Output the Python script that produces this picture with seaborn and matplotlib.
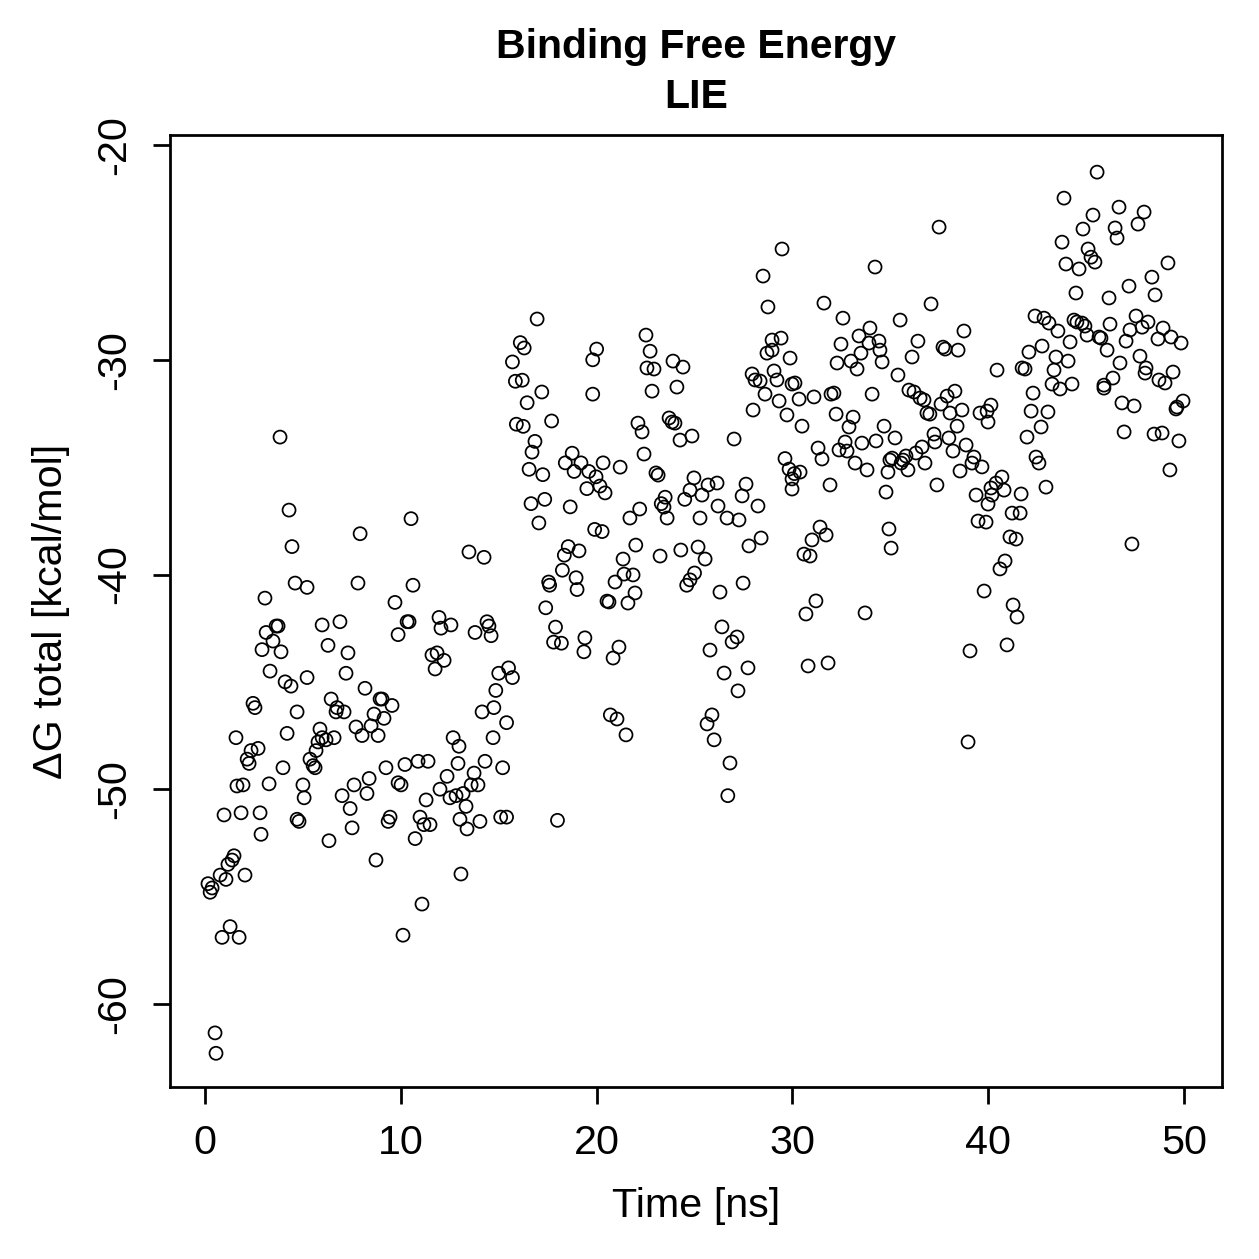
import numpy as np
import pandas as pd
import matplotlib
matplotlib.use("Agg")
import matplotlib.pyplot as plt
import seaborn as sns

# values, in segments along the time axis
t_00_15 = [0.15, 0.26, 0.36, 0.51, 0.56, 0.77, 0.87, 0.97, 1.07, 1.17,
           1.38, 1.48, 1.28, 1.58, 1.63, 1.74, 1.84, 1.94, 2.04, 2.15,
           2.25, 2.35, 2.45, 2.55, 2.71, 2.81, 2.86, 2.91, 3.06, 3.12,
           3.27, 3.32, 3.47, 3.63, 3.73, 3.83, 3.88, 3.98, 4.09, 4.19,
           4.29, 4.39, 4.44, 4.6, 4.7, 4.7, 4.8, 5.0, 5.06, 5.21,
           5.21, 5.36, 5.52, 5.62, 5.67, 5.77, 5.87, 5.98, 5.98, 6.18,
           6.28, 6.33, 6.44, 6.59, 6.69, 6.74, 6.89, 7.0, 7.1, 7.2,
           7.3, 7.41, 7.51, 7.61, 7.71, 7.81, 7.92, 8.02, 8.17, 8.27,
           8.38, 8.48, 8.63, 8.73, 8.84, 8.94, 9.04, 9.14, 9.24, 9.35,
           9.45, 9.55, 9.7, 9.86, 9.86, 10.01, 10.11, 10.21, 10.32, 10.42,
           10.52, 10.62, 10.73, 10.88, 10.98, 11.08, 11.18, 11.29, 11.39, 11.49,
           11.59, 11.75, 11.85, 11.95, 12.0, 12.05, 12.21, 12.36, 12.51, 12.56,
           12.67, 12.82, 12.92, 12.97, 13.02, 13.07, 13.18, 13.33, 13.38, 13.48,
           13.59, 13.74, 13.79, 13.94, 14.04, 14.15, 14.25, 14.3, 14.4, 14.5,
           14.61, 14.71]
dg_00_15 = [-54.4, -54.8, -54.6, -61.35, -62.3, -54.0, -56.9, -51.2, -54.2, -53.5,
            -53.3, -53.1, -56.4, -47.6, -49.85, -56.9, -51.1, -49.8, -54.0, -48.6,
            -48.8, -48.2, -46.0, -46.2, -48.1, -51.1, -52.1, -43.5, -41.1, -42.7,
            -49.75, -44.5, -43.1, -42.4, -42.4, -33.6, -43.6, -49.0, -45.0, -47.4,
            -37.0, -45.2, -38.7, -40.4, -46.4, -51.4, -51.5, -49.8, -50.4, -40.6,
            -44.8, -48.6, -48.9, -49.0, -48.2, -47.8, -47.2, -47.6, -42.35, -47.7,
            -43.3, -52.4, -45.8, -47.6, -46.4, -46.2, -42.2, -50.3, -46.4, -44.6,
            -43.65, -50.9, -51.8, -49.8, -47.1, -40.4, -38.1, -47.5, -45.3, -50.2,
            -49.5, -47.05, -46.5, -53.3, -47.5, -45.8, -45.8, -46.7, -49.0, -51.5,
            -51.3, -46.1, -41.3, -42.8, -49.7, -49.8, -56.8, -48.85, -42.2, -42.2,
            -37.4, -40.5, -52.3, -48.7, -51.3, -55.35, -51.65, -50.5, -48.7, -51.65,
            -43.75, -44.4, -43.65, -42.0, -50.0, -42.5, -44.0, -49.4, -50.4, -42.35,
            -47.6, -50.3, -48.8, -48.0, -51.4, -53.95, -50.2, -50.8, -51.85, -38.95,
            -49.8, -49.25, -42.7, -49.8, -51.5, -46.4, -39.2, -48.7, -42.2, -42.4,
            -42.85, -47.6]

t_15_20 = [16.96, 16.1, 16.3, 15.7, 20.0, 19.8, 19.8, 15.85, 16.2, 17.2,
           16.45, 17.7, 15.9, 16.25, 16.85, 16.7, 18.75, 18.4, 19.2, 18.85,
           16.55, 17.25, 19.6, 19.97, 19.5, 16.65, 17.35, 18.65, 17.05, 19.9,
           18.55, 19.1, 18.35, 18.25, 17.55, 17.6, 18.95, 19.0, 17.4, 17.9,
           17.8, 18.2, 19.4, 19.35, 15.5, 15.0, 15.7, 14.85, 14.75, 15.4,
           15.2, 15.1, 15.4, 18.0]
dg_15_20 = [-28.1, -29.2, -29.45, -30.1, -29.5, -30.0, -31.6, -31.0, -30.95, -31.5,
            -32.0, -32.85, -33.0, -33.1, -33.8, -34.3, -34.35, -34.8, -34.8, -35.2,
            -35.1, -35.35, -35.2, -35.45, -36.0, -36.7, -36.5, -36.85, -37.6, -37.9,
            -38.7, -38.9, -39.1, -39.8, -40.35, -40.5, -40.15, -40.7, -41.55, -42.45,
            -43.15, -43.2, -42.95, -43.6, -44.35, -44.6, -44.8, -45.4, -46.2, -46.9,
            -49.0, -51.3, -51.3, -51.45]

t_20_25 = [22.52, 22.73, 22.57, 22.93, 23.9, 24.41, 22.83, 24.1, 22.11, 22.32,
           23.7, 23.85, 24.0, 24.26, 24.87, 22.42, 20.33, 21.2, 23.03, 23.14,
           20.17, 20.43, 24.97, 24.77, 24.5, 23.5, 23.3, 23.44, 23.6, 22.2,
           21.7, 20.28, 22.0, 23.24, 24.3, 21.35, 21.4, 21.86, 20.94, 21.96,
           21.6, 20.53, 20.63, 24.6, 24.77, 25.0, 21.14, 20.84, 20.7, 21.04,
           21.5]
dg_20_25 = [-28.85, -29.6, -30.38, -30.43, -30.06, -30.34, -31.46, -31.27, -32.95, -33.36,
            -32.71, -32.9, -32.95, -33.74, -33.55, -34.39, -34.8, -35.0, -35.27, -35.37,
            -35.88, -36.2, -35.5, -36.07, -36.5, -36.4, -36.7, -36.86, -37.37, -36.95,
            -37.37, -38.0, -38.63, -39.14, -38.86, -39.28, -39.98, -40.02, -40.35, -40.86,
            -41.33, -41.24, -41.28, -40.5, -40.25, -39.93, -43.38, -43.89, -46.54, -46.73,
            -47.47]

t_25_30 = [29.47, 28.5, 28.75, 28.96, 29.42, 28.7, 28.96, 29.88, 27.94, 28.09,
           28.35, 29.06, 29.21, 29.98, 28.6, 29.32, 29.72, 27.99, 27.02, 29.62,
           29.83, 29.98, 30.1, 25.69, 26.15, 25.38, 27.63, 27.43, 28.24, 26.2,
           26.66, 27.27, 25.28, 28.4, 27.78, 25.18, 25.54, 27.48, 26.3, 26.4,
           27.17, 26.92, 25.79, 27.73, 26.51, 27.22, 25.89, 25.64, 26.0, 26.81,
           26.7]
dg_25_30 = [-24.84, -26.1, -27.54, -29.08, -28.99, -29.69, -29.55, -29.92, -30.66, -30.94,
            -30.99, -30.52, -30.94, -31.13, -31.6, -31.92, -32.57, -32.34, -33.69, -34.6,
            -35.09, -35.55, -35.3, -35.83, -35.74, -36.3, -35.79, -36.34, -36.81, -36.81,
            -37.37, -37.46, -37.37, -38.3, -38.67, -38.72, -39.28, -40.4, -40.82, -42.44,
            -42.91, -43.14, -43.52, -44.35, -44.59, -45.42, -46.54, -46.96, -47.7, -48.78,
            -50.3]

t_30_35 = [34.22, 31.61, 32.58, 33.96, 33.4, 32.48, 33.91, 34.42, 34.47, 33.5,
           34.58, 32.28, 32.99, 33.3, 30.13, 30.34, 31.1, 31.97, 32.12, 34.07,
           30.49, 32.23, 33.1, 32.89, 34.68, 32.69, 32.38, 32.79, 33.55, 34.27,
           31.31, 31.51, 33.2, 33.81, 34.98, 34.88, 34.78, 30.39, 29.98, 31.92,
           31.41, 31.0, 31.72, 30.59, 30.9, 34.93, 35.04, 31.2, 30.69, 33.71,
           30.8, 31.82]
dg_30_35 = [-25.68, -27.36, -28.06, -28.52, -28.89, -29.27, -29.22, -29.13, -29.55, -29.69,
            -30.1, -30.15, -30.06, -30.43, -31.08, -31.83, -31.73, -31.6, -31.55, -31.6,
            -33.09, -32.53, -32.67, -33.13, -33.09, -33.83, -34.2, -34.25, -33.88, -33.78,
            -34.11, -34.62, -34.81, -35.13, -34.67, -35.23, -36.16, -35.23, -36.02, -35.83,
            -37.79, -38.39, -38.16, -39.05, -39.14, -37.88, -38.77, -41.23, -41.84, -41.79,
            -44.26, -44.12]

t_35_40 = [37.49, 37.08, 35.5, 38.76, 36.41, 36.11, 37.69, 37.8, 38.46, 35.39,
           35.95, 36.21, 36.52, 36.72, 38.3, 37.9, 37.59, 38.05, 38.66, 39.58,
           39.94, 40.14, 39.99, 36.87, 37.02, 38.41, 35.24, 37.23, 37.28, 37.99,
           38.2, 38.87, 36.62, 36.31, 35.8, 35.65, 35.55, 35.9, 36.77, 35.09,
           38.56, 39.27, 39.17, 39.68, 37.38, 39.38, 40.14, 39.99, 39.48, 39.89,
           39.79, 39.07, 38.97]
dg_35_40 = [-23.82, -27.4, -28.15, -28.66, -29.13, -29.87, -29.41, -29.5, -29.55, -30.71,
            -31.41, -31.5, -31.78, -31.87, -31.46, -31.69, -32.06, -32.48, -32.34, -32.48,
            -32.39, -32.11, -32.9, -32.48, -32.53, -33.09, -33.64, -33.46, -33.83, -33.64,
            -34.25, -33.97, -34.06, -34.34, -34.48, -34.67, -34.81, -35.13, -34.81, -34.58,
            -35.18, -34.53, -34.81, -34.99, -35.83, -36.3, -35.97, -36.72, -37.51, -37.56,
            -40.77, -43.56, -47.8]

t_40_45 = [43.87, 44.84, 43.77, 43.97, 44.64, 44.48, 42.39, 42.85, 43.1, 43.56,
           44.38, 44.53, 44.79, 44.94, 45.05, 44.18, 42.08, 42.75, 43.46, 44.08,
           40.45, 41.73, 41.88, 43.36, 43.26, 43.67, 44.28, 42.29, 42.19, 43.05,
           42.7, 41.98, 42.44, 42.59, 42.95, 40.7, 40.4, 40.81, 40.19, 41.68,
           41.22, 41.63, 41.11, 41.42, 40.86, 40.6, 41.27, 41.47, 40.96]
dg_40_45 = [-22.47, -23.91, -24.52, -25.54, -25.77, -26.89, -27.96, -28.06, -28.29, -28.66,
            -28.15, -28.24, -28.29, -28.43, -28.85, -29.17, -29.64, -29.36, -29.87, -30.06,
            -30.48, -30.38, -30.43, -30.48, -31.13, -31.36, -31.13, -31.55, -32.39, -32.43,
            -33.13, -33.6, -34.53, -34.81, -35.93, -35.46, -35.74, -36.07, -36.3, -36.25,
            -37.14, -37.14, -38.25, -38.35, -39.37, -39.74, -41.42, -41.98, -43.28]

t_45_50 = [45.56, 46.68, 45.35, 47.96, 47.65, 46.48, 46.58, 45.1, 45.25, 45.45,
           49.18, 48.36, 47.19, 48.52, 46.17, 45.66, 45.76, 46.22, 47.55, 47.86,
           48.16, 47.24, 47.04, 48.93, 48.67, 49.34, 49.85, 46.07, 47.75, 46.73,
           48.06, 48.01, 48.72, 49.03, 49.44, 46.37, 45.91, 45.91, 46.83, 47.45,
           49.59, 49.95, 49.64, 46.94, 48.47, 48.88, 49.74, 49.28, 47.34]
dg_45_50 = [-21.26, -22.89, -23.26, -23.12, -23.68, -23.86, -24.33, -24.84, -25.22, -25.45,
            -25.49, -26.15, -26.57, -26.98, -27.12, -28.94, -28.99, -28.34, -27.96, -28.48,
            -28.24, -28.61, -29.13, -28.52, -29.03, -28.94, -29.22, -29.55, -29.83, -30.15,
            -30.38, -30.62, -30.94, -31.08, -30.57, -30.85, -31.18, -31.32, -32.01, -32.15,
            -32.29, -31.92, -32.2, -33.36, -33.46, -33.41, -33.78, -35.13, -38.58]

x_ticks = [0, 10, 20, 30, 40, 50]
y_ticks = [-20, -30, -40, -50, -60]

df = pd.concat([
    pd.DataFrame({"Time": t, "dG": g})
    for t, g in [(t_00_15, dg_00_15), (t_15_20, dg_15_20), (t_20_25, dg_20_25),
                 (t_25_30, dg_25_30), (t_30_35, dg_30_35), (t_35_40, dg_35_40),
                 (t_40_45, dg_40_45), (t_45_50, dg_45_50)]
], ignore_index=True)

sns.set_style("ticks")
plt.rcParams["font.family"] = ["Liberation Sans", "DejaVu Sans"]
plt.rcParams["text.color"] = "black"
plt.rcParams["axes.labelcolor"] = "black"
plt.rcParams["xtick.color"] = "black"
plt.rcParams["ytick.color"] = "black"

W = 1259
fig = plt.figure(figsize=(W / 180, W / 180), dpi=180)
ax = fig.add_axes([170 / W, 1 - 1087 / W, (1222 - 170) / W, (1087 - 135) / W])

sns.scatterplot(data=df, x="Time", y="dG", ax=ax, marker="o", s=27,
                facecolor="none", edgecolor="black", linewidth=0.7)

ax.set_xlim(-1.79, 51.94)
ax.set_ylim(-63.87, -19.53)
ax.set_xticks(x_ticks)
ax.set_yticks(y_ticks)
ax.set_xticklabels([str(v) for v in x_ticks])
ax.set_yticklabels([str(v) for v in y_ticks], rotation=90, va="center")
ax.tick_params(direction="out", length=6.8, width=1.1, labelsize=16.5, pad=8,
               colors="black")
for s in ax.spines.values():
    s.set_visible(True)
    s.set_linewidth(1.1)
    s.set_color("black")

ax.set_xlabel("Time [ns]", fontsize=16.5, labelpad=10)
ax.set_ylabel("ΔG total [kcal/mol]", fontsize=16.5, labelpad=10)

cx = (170 + 1222) / 2 / W
fig.text(cx, 1 - 58 / W, "Binding Free Energy", ha="center", va="baseline",
         fontsize=16.4, fontweight="bold")
fig.text(cx, 1 - 108 / W, "LIE", ha="center", va="baseline",
         fontsize=16.4, fontweight="bold")

fig.savefig("out.png", dpi=180, facecolor="white")
